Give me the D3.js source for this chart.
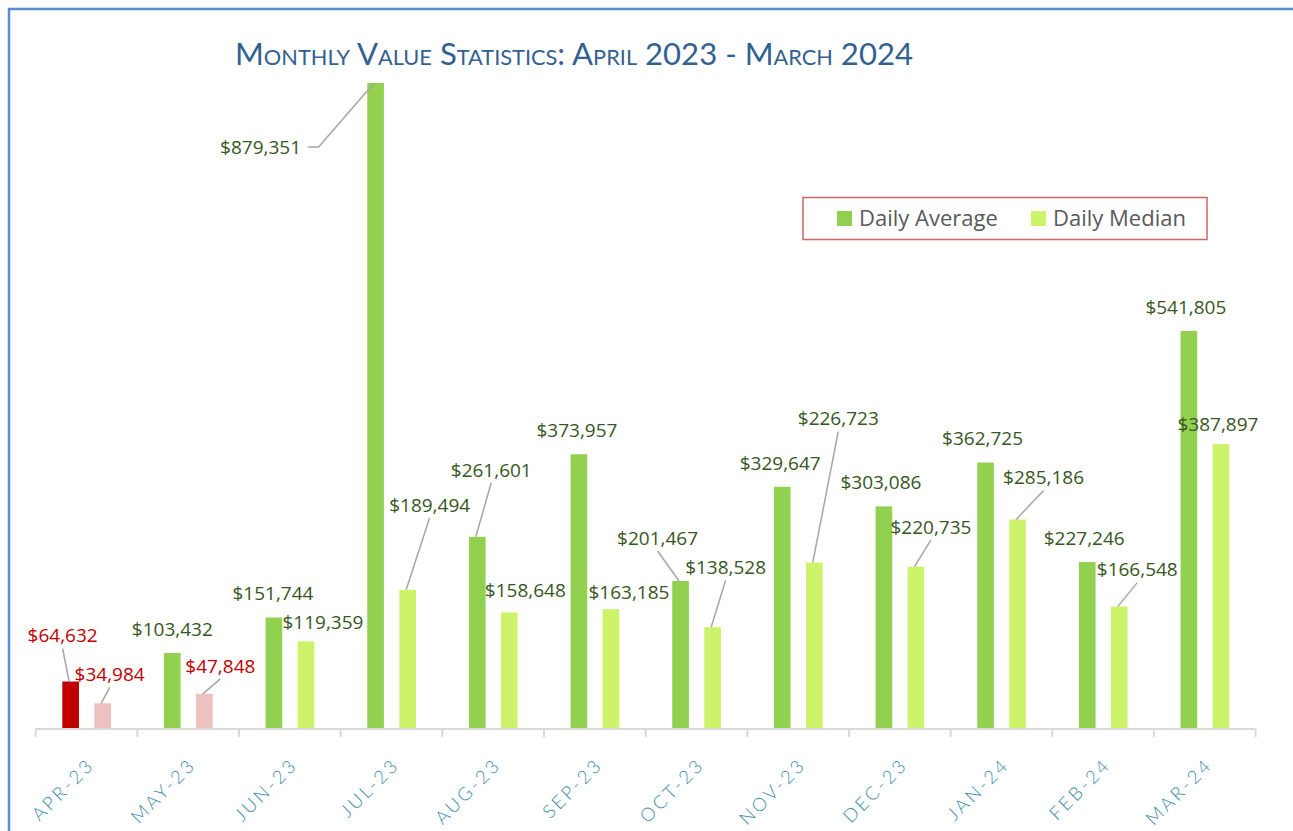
<!DOCTYPE html>
<html>
<head>
<meta charset="utf-8">
<script src="https://cdn.jsdelivr.net/npm/d3@7"></script>
<style>
  body { margin: 0; background: #fff; }
  svg { display: block; }
</style>
</head>
<body>
<svg id="chart" width="1293" height="831"></svg>
<script>
// data
var months = ["Apr-23", "May-23", "Jun-23", "Jul-23", "Aug-23", "Sep-23",
              "Oct-23", "Nov-23", "Dec-23", "Jan-24", "Feb-24", "Mar-24"];
var dailyAverage = [64632, 103432, 151744, 879351, 261601, 373957,
                    201467, 329647, 303086, 362725, 227246, 541805];
var dailyMedian = [34984, 47848, 119359, 189494, 158648, 163185,
                   138528, 226723, 220735, 285186, 166548, 387897];
var seriesNames = ["Daily Average", "Daily Median"];
// months flagged red (below target)
var lowMonths = {avg: ["Apr-23"], med: ["Apr-23", "May-23"]};

// label layout: offset from bar top centre, and leader flag
var avgLabelPos = [[-8,-46,1],[0,-24,0],[-1,-24,0],[-115,64,2],[14,-67,1],[-2,-24,0],
                   [-23,-43,1],[-2,-24,0],[-3,-24,0],[-3,-24,0],[-3,-24,0],[-3,-24,0]];
var medLabelPos = [[7,-29,1],[16,-28,1],[17,-19,0],[22,-85,1],[16,-22,0],[18,-17,0],
                   [13,-60,1],[24,-144,1],[15,-40,1],[26,-42,1],[18,-37,1],[-3,-20,0]];

var svg = d3.select("#chart");
var left = 35.7, right = 1255.6, baseY = 729, topY = 83;

var x0 = d3.scaleBand().domain(months).range([left, right]);
var x1 = d3.scaleBand().domain(["avg", "med"]).range([26.6, 75.3]).paddingInner(0.48);
var y = d3.scaleLinear().domain([0, d3.max(dailyAverage)]).range([baseY, topY]);

var rows = months.map(function(m, i) {
  return [
    {m: m, key: "avg", v: dailyAverage[i], pos: avgLabelPos[i]},
    {m: m, key: "med", v: dailyMedian[i], pos: medLabelPos[i]}
  ];
});
var flat = [].concat.apply([], rows);

function isLow(d) { return lowMonths[d.key].indexOf(d.m) >= 0; }
function fillOf(d) {
  if (d.key == "avg") return isLow(d) ? "#C00000" : "#92D050";
  return isLow(d) ? "#EFC0C0" : "#CDF36B";
}
function cx(d) { return x0(d.m) + x1(d.key) + x1.bandwidth() / 2; }

// frame
svg.append("rect")
  .attr("x", 9).attr("y", 9).attr("width", 1400).attr("height", 900)
  .attr("fill", "none").attr("stroke", "#5B8BD0").attr("stroke-width", 2.5);

// title
svg.append("text")
  .attr("x", 235).attr("y", 65)
  .attr("textLength", 678).attr("lengthAdjust", "spacingAndGlyphs")
  .style("font-family", "Lato, 'Open Sans', sans-serif")
  .style("font-variant", "small-caps")
  .style("font-size", "30px")
  .attr("fill", "#335F91")
  .text("Monthly Value Statistics: April 2023 - March 2024");

// bars
svg.append("g").selectAll("rect").data(flat).enter()
  .append("rect")
  .attr("x", function(d) { return x0(d.m) + x1(d.key); })
  .attr("y", function(d) { return y(d.v); })
  .attr("width", x1.bandwidth())
  .attr("height", function(d) { return baseY - y(d.v); })
  .attr("fill", fillOf);

// axis
var axis = d3.axisBottom(x0).tickSize(0).tickFormat("");
var gx = svg.append("g").attr("transform", "translate(0," + baseY + ")").call(axis);
gx.select(".domain").remove();
gx.append("line").attr("x1", left).attr("x2", right)
  .attr("stroke", "#D9D9D9").attr("stroke-width", 2);
gx.selectAll(".sep").data(months.concat(["end"])).enter()
  .append("line")
  .attr("x1", function(d, i) { return left + i * x0.step(); })
  .attr("x2", function(d, i) { return left + i * x0.step(); })
  .attr("y1", 0).attr("y2", 8)
  .attr("stroke", "#D9D9D9").attr("stroke-width", 2);

// month labels
svg.append("g").selectAll("text").data(months).enter()
  .append("text")
  .attr("transform", function(d) {
    return "translate(" + (x0(d) + x0.bandwidth() / 2 + 9) + ",766) rotate(-45)";
  })
  .attr("text-anchor", "end")
  .style("font-family", "Lato, sans-serif")
  .style("font-weight", 300)
  .style("font-size", "18.5px")
  .style("letter-spacing", "2.8px")
  .attr("fill", "#3F8DAB")
  .text(function(d) { return d.toUpperCase(); });

// leader lines
var fmt = d3.format("$,");
var lead = svg.append("g").attr("stroke", "#A6A6A6").attr("stroke-width", 1.5).attr("fill", "none");
flat.filter(function(d) { return d.pos[2] > 0; }).forEach(function(d) {
  var bx = cx(d) - 1.5, by = y(d.v);
  var lx = cx(d) + d.pos[0], ly = by + d.pos[1];
  if (d.pos[2] == 2) {
    lead.append("polyline").attr("points",
      [[lx + 47, ly], [lx + 58, ly], [bx, by]].map(function(p) { return p.join(","); }).join(" "));
  } else {
    lead.append("line").attr("x1", lx).attr("y1", ly + 13).attr("x2", bx).attr("y2", by);
  }
});

// data labels
svg.append("g").selectAll("text").data(flat).enter()
  .append("text")
  .attr("x", function(d) { return cx(d) + d.pos[0]; })
  .attr("y", function(d) { return y(d.v) + d.pos[1]; })
  .attr("dy", "0.36em")
  .attr("text-anchor", "middle")
  .style("font-family", "'Open Sans', sans-serif")
  .style("font-size", "19px")
  .attr("fill", function(d) { return isLow(d) ? "#C00000" : "#375623"; })
  .text(function(d) { return fmt(d.v); });

// legend
var lg = svg.append("g");
lg.append("rect").attr("x", 803).attr("y", 197.5).attr("width", 404).attr("height", 42)
  .attr("fill", "#fff").attr("stroke", "#D06464").attr("stroke-width", 1.5);
var legX = [837, 1031];
seriesNames.forEach(function(name, i) {
  lg.append("rect").attr("x", legX[i]).attr("y", 211).attr("width", 15).attr("height", 15)
    .attr("fill", i == 0 ? "#92D050" : "#CDF36B");
  lg.append("text").attr("x", legX[i] + 22).attr("y", 226)
    .style("font-family", "'Open Sans', sans-serif").style("font-size", "22px")
    .attr("fill", "#595959").text(name);
});
</script>
</body>
</html>
